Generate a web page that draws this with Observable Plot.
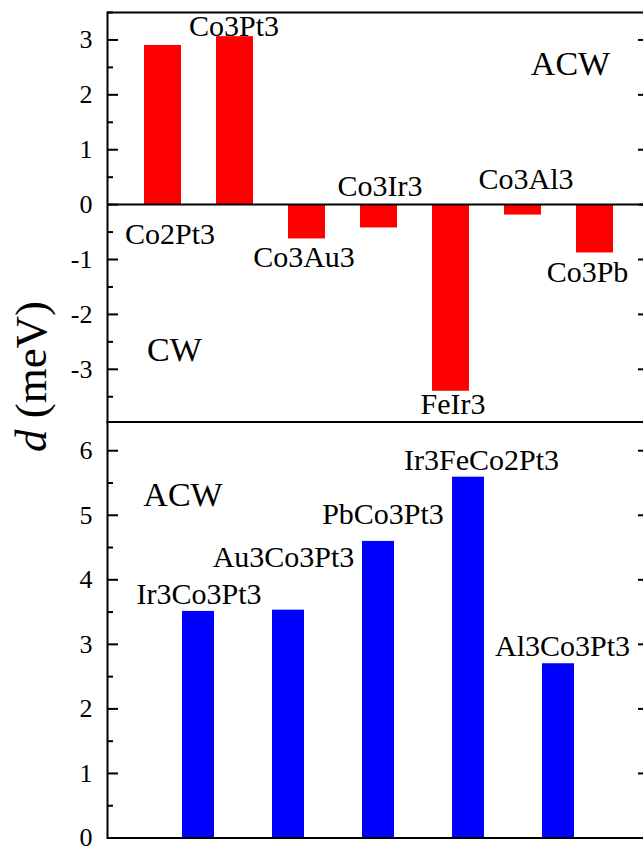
<!DOCTYPE html>
<html><head><meta charset="utf-8">
<script src="https://cdn.jsdelivr.net/npm/d3@7"></script>
<script src="https://cdn.jsdelivr.net/npm/@observablehq/plot@0.6"></script>
<style>
html,body{margin:0;padding:0;background:#fff;overflow:hidden;}
#wrap{position:relative;width:643px;height:847px;overflow:hidden;font-family:'Liberation Serif';}
#wrap > svg{position:absolute;left:0;}
#wrap svg text{font-family:'Liberation Serif' !important;}
</style></head><body><div id="wrap"></div>
<script>
// ---- data ----
const topNames = ["Co2Pt3","Co3Pt3","Co3Au3","Co3Ir3","FeIr3","Co3Al3","Co3Pb"];
const topValues = [2.90, 3.06, -0.625, -0.425, -3.40, -0.19, -0.88];
const bottomNames = ["Ir3Co3Pt3","Au3Co3Pt3","PbCo3Pt3","Ir3FeCo2Pt3","Al3Co3Pt3"];
const bottomValues = [3.51, 3.53, 4.595, 5.59, 2.70];
const topTicks = [-3, -2, -1, 0, 1, 2, 3];
const bottomTicks = [0, 1, 2, 3, 4, 5, 6];
const yLabelItalic = "d";
const yLabelRest = " (meV)";

// ---- layout (label offsets in px, not data) ----
const topLabelOffsets = [[7,189],[-1,-10],[-3,18],[1,-42],[2,13],[3,-36],[-7.5,19]];
const bottomLabelOffsets = [[0.5,-17],[-5,-53],[4.5,-27],[13,-16.5],[4,-17]];

const FONT = "Liberation Serif";
const FRAME_W = 542;

function halfTicks(ticks, domain) {
  const out = [];
  for (let i = 0; i < ticks.length; i++) {
    for (const t of [ticks[i] - 0.5, ticks[i] + 0.5]) {
      if (t >= domain[0] - 1e-9 && t <= domain[1] + 1e-9 && !out.includes(t)) out.push(t);
    }
  }
  return out;
}

function panel(o) {
  const rows = o.names.map((n, i) => ({name: n, value: o.values[i]}));
  const minor = halfTicks(o.ticks, o.domain);
  const marks = [
    Plot.barY(rows, {x: "name", y: "value", fill: o.color}),
  ];
  if (o.zeroRule) marks.push(Plot.ruleY([0], {stroke: "black", strokeWidth: 2}));
  marks.push(
    Plot.ruleY(o.ticks, {insetRight: FRAME_W - 11, stroke: "black", strokeWidth: 2}),
    Plot.ruleY(minor, {insetRight: FRAME_W - 6, stroke: "black", strokeWidth: 2}),
    Plot.ruleY(o.ticks, {insetLeft: FRAME_W - 11, stroke: "black", strokeWidth: 2}),
    Plot.ruleY(minor, {insetLeft: FRAME_W - 6, stroke: "black", strokeWidth: 2}),
    Plot.axisY(o.ticks, {tickSize: 0, tickPadding: 15, fontSize: 26, fontFamily: FONT, tickFormat: d => String(d), label: null}),
    Plot.frame({stroke: "black", strokeWidth: 2})
  );
  rows.forEach((r, i) => {
    marks.push(Plot.text([r], {x: "name", y: "value", text: "name", dx: o.offsets[i][0], dy: o.offsets[i][1], fontSize: 30, fontFamily: FONT, fill: "black"}));
  });
  o.regions.forEach(rg => {
    marks.push(Plot.text([rg.text], {text: d => d, frameAnchor: rg.anchor, dx: rg.dx, dy: rg.dy, textAnchor: "middle", fontSize: 34, fontFamily: FONT, fill: "black"}));
  });
  const svg = Plot.plot({
    width: 660, height: o.height,
    marginLeft: 107, marginRight: 11, marginTop: o.mt, marginBottom: o.mb,
    style: {color: "black", background: "transparent", maxWidth: "none", overflow: "visible"},
    x: {domain: o.names, paddingInner: o.padIn, paddingOuter: o.padOut, axis: null},
    y: {domain: o.domain},
    marks
  });
  svg.setAttribute("font-family", FONT);
  svg.style.top = o.top + "px";
  return svg;
}

const wrap = document.getElementById("wrap");

wrap.appendChild(panel({
  names: topNames, values: topValues, color: "#ff0000",
  domain: [-3.96, 3.5], ticks: topTicks, padIn: 0.489, padOut: 0.487,
  height: 430, mt: 12, mb: 8.5, top: 0, zeroRule: true,
  offsets: topLabelOffsets,
  regions: [
    {text: "ACW", anchor: "top-right", dx: -79, dy: 38},
    {text: "CW", anchor: "bottom-left", dx: 67, dy: -61.5}
  ]
}));

wrap.appendChild(panel({
  names: bottomNames, values: bottomValues, color: "#0000ff",
  domain: [0, 6.445], ticks: bottomTicks, padIn: 0.639, padOut: 0.813,
  height: 437, mt: 11.5, mb: 9.5, top: 410, zeroRule: false,
  offsets: bottomLabelOffsets,
  regions: [
    {text: "ACW", anchor: "top-left", dx: 75.5, dy: 59.5}
  ]
}));

// shared y-axis title
const ns = "http://www.w3.org/2000/svg";
const lab = document.createElementNS(ns, "svg");
lab.setAttribute("width", 80); lab.setAttribute("height", 847);
lab.style.top = "0px";
const t = document.createElementNS(ns, "text");
t.setAttribute("transform", "translate(45.5,376.5) rotate(-90)");
t.setAttribute("text-anchor", "middle");
t.setAttribute("font-family", FONT);
t.setAttribute("font-size", "45");
t.style.whiteSpace = "pre";
const ti = document.createElementNS(ns, "tspan");
ti.setAttribute("font-style", "italic");
ti.textContent = yLabelItalic;
t.appendChild(ti);
t.appendChild(document.createTextNode(yLabelRest));
lab.appendChild(t);
wrap.appendChild(lab);
</script>
</body></html>
